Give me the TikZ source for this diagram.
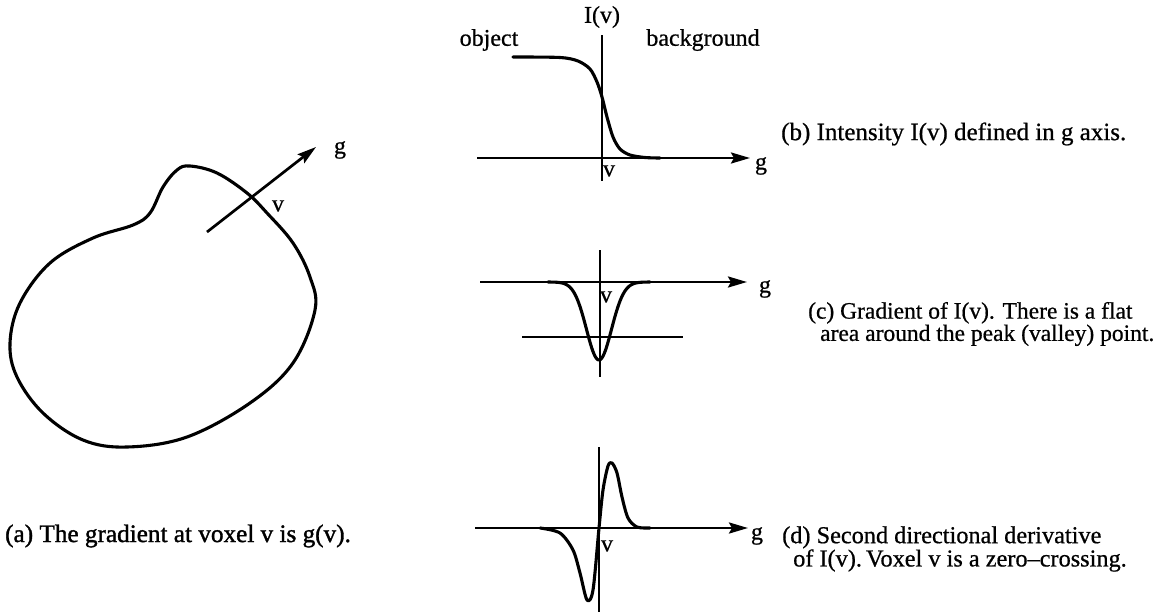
\documentclass[tikz,border=0pt]{standalone}
\usepackage{fontspec}
\setmainfont{Liberation Serif}
\newfontfamily\reffont{Liberation Serif}[FakeBold=0.7,Ligatures=TeX]
\newfontfamily\capafont{Liberation Serif}[FakeBold=1.4,Ligatures=TeX]
\usetikzlibrary{arrows.meta}
\begin{document}
\begin{tikzpicture}[x=1pt,y=-1pt,
  lbl/.style={inner sep=0pt, font=\reffont\fontsize{24}{19}\selectfont},
  captxt/.style={inner sep=0pt, anchor=west, align=left, font=\reffont\fontsize{24.3}{19.5}\selectfont},
  curvestyle/.style={line width=3.1pt, line join=round, line cap=round},
  axis/.style={line width=2.7pt},
  arr/.style={axis, -{Stealth[length=19pt,width=11pt,inset=3pt]}}]
\useasboundingbox (0,0) rectangle (1168,614);

% ---------- panel (a)
\draw[curvestyle] plot[smooth cycle, tension=0.6] coordinates {
  (190,166) (217,173) (247,193) (267,213) (293,243) (310,277) (315,310)
  (293,363) (250,403) (187,437) (127,447) (83,440) (43,413) (17,377)
  (10,343) (20,303) (50,263) (93,238) (133,225) (150,213) (163,187) (177,170)};
\coordinate (aS) at (207,232);
\coordinate (aT) at (316,147);
\draw[arr] (aS) -- (aT);
\node[lbl] (ag) at (340,150) {g};
\node[lbl] (av) at (278,206) {v};
\node[inner sep=0pt, anchor=west, font=\capafont\fontsize{25.2}{20}\selectfont] (capa) at (5,536) {(a) The gradient at voxel v is g(v).};

% ---------- panel (b)
\coordinate (bL) at (477,158);
\coordinate (bR) at (750,158);
\draw[arr] (bL) -- (bR);
\coordinate (bT) at (602,35);
\coordinate (bB) at (602,181);
\draw[axis] (bT) -- (bB);
\draw[curvestyle] plot[smooth, tension=0.5] coordinates {
  (513,57) (560,57.5) (578,61) (590,69) (597,82) (602,97) (607,117)
  (613,137) (620,149) (630,155) (645,157.5) (660,158)};
\node[lbl] (bI) at (602,17) {I(v)};
\node[lbl] (bobj) at (489,40) {object};
\node[lbl] (bbg) at (703,40) {background};
\node[lbl] (bg) at (761,166) {g};
\node[lbl] (bv) at (609,171) {v};
\node[captxt, font=\reffont\fontsize{25}{19.5}\selectfont] (capb) at (781,134) {(b) Intensity I(v) defined in g axis.};

% ---------- panel (c)
\coordinate (cL) at (480,282);
\coordinate (cR) at (747,282);
\draw[arr] (cL) -- (cR);
\coordinate (cT) at (600,250);
\coordinate (cB) at (600,377);
\draw[axis] (cT) -- (cB);
\coordinate (cl1) at (522,337);
\coordinate (cl2) at (683,337);
\draw[axis] (cl1) -- (cl2);
\draw[curvestyle] plot[domain=548:650, samples=90]
  (\x,{282+78*exp(-0.5*((\x-599)/12.5)*((\x-599)/12.5))});
\node[lbl] (cg) at (765,289) {g};
\node[lbl] (cv) at (606,297) {v};
\node[captxt, font=\reffont\fontsize{23.5}{20}\selectfont] (capc) at (808,324)
  {(c) Gradient of I(v). There is a flat\\\hspace*{12pt}area around the peak (valley) point.};

% ---------- panel (d)
\coordinate (dL) at (475,528);
\coordinate (dR) at (748,528);
\draw[arr] (dL) -- (dR);
\coordinate (dT) at (599,447);
\coordinate (dB) at (599,612);
\draw[axis] (dT) -- (dB);
\draw[curvestyle] plot[smooth, tension=0.5] coordinates {
  (540,528) (560,533) (573,550) (580,573) (587,600) (593,590) (599,528)
  (603,490) (608,466) (612,463) (617,473) (622,497) (628,518) (637,527) (650,528)};
\node[lbl] (dg) at (757,536) {g};
\node[lbl] (dv) at (607,546) {v};
\node[captxt] (capd) at (782,549)
  {(d) Second directional derivative\\\hspace*{11pt}of I(v).\,Voxel v is a zero–crossing.};
\end{tikzpicture}
\end{document}
